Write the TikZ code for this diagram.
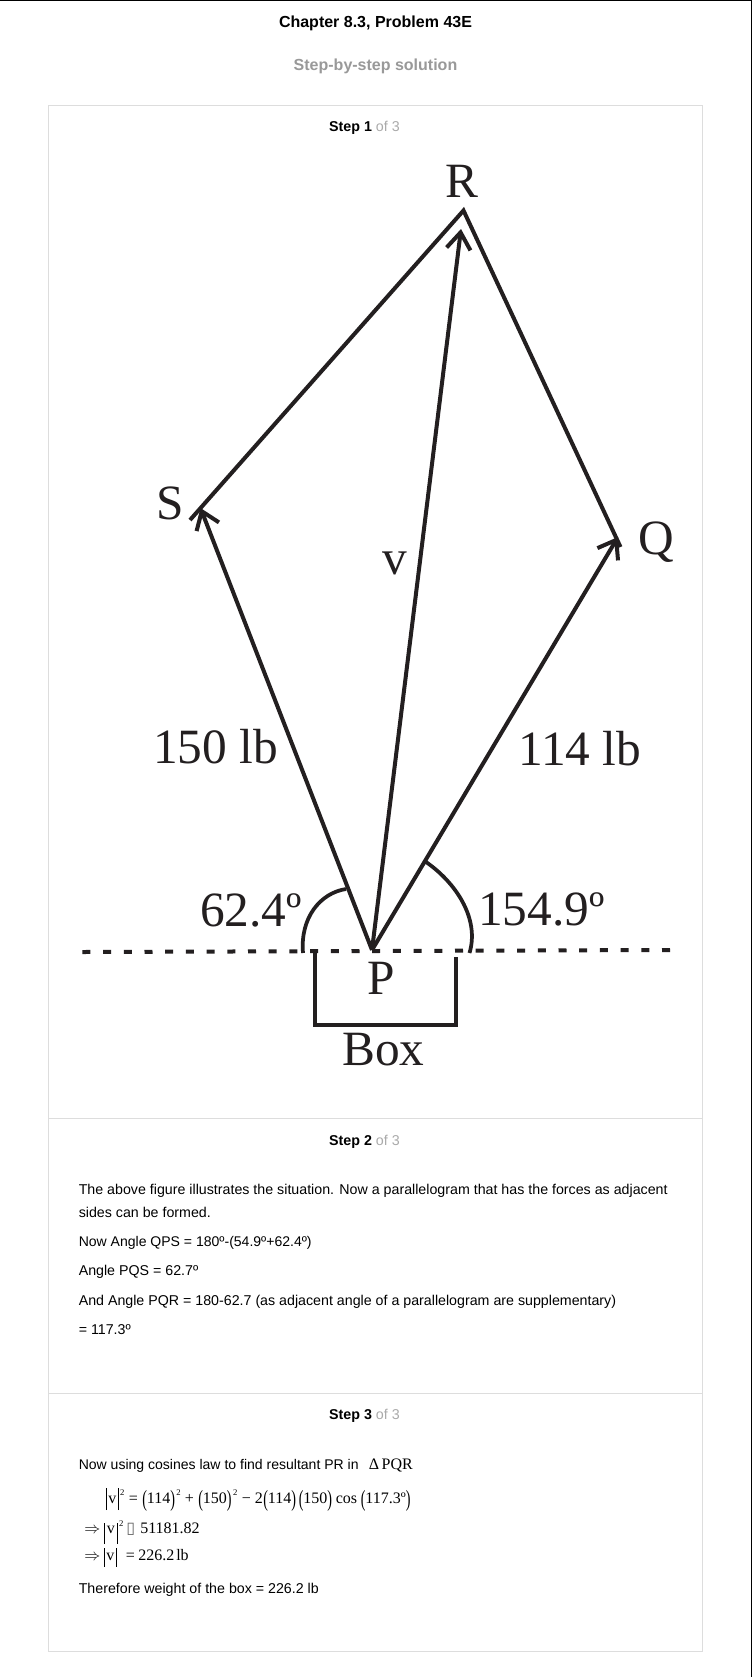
\documentclass[tikz,border=0pt]{standalone}
\usepackage{fontspec}
\usepackage{graphicx}
\usetikzlibrary{arrows.meta}
\setmainfont{Liberation Sans}
\newfontfamily\serifface{Liberation Serif}
\newfontfamily\dejaface{DejaVu Sans}
\newdimen\pxu \pxu=0.75pt
\definecolor{ink}{HTML}{231F20}
\definecolor{panelline}{HTML}{DDDDDD}
\definecolor{softgray}{HTML}{999999}
\definecolor{stepgray}{HTML}{AAAAAA}
\newcommand{\tallp}[1]{\raisebox{-2.6\pxu}{\scalebox{0.88}[1.45]{#1}}}
\newcommand{\barp}[2]{\rule[-#1\pxu]{1\pxu}{#2\pxu}}
\newcommand{\supr}[2][8.5]{\raisebox{#1\pxu}{\hspace{1.4\pxu}\fontsize{6.5pt}{7pt}\selectfont #2}}
\tikzset{
  x=0.75pt,y=-0.75pt,
  titletext/.style={anchor=base,inner sep=0pt,font=\fontsize{12pt}{14pt}\selectfont\bfseries},
  steptext/.style={anchor=base,inner sep=0pt,font=\fontsize{10.7pt}{12pt}\selectfont},
  bodytext/.style={anchor=base west,inner sep=0pt,font=\fontsize{10.67pt}{12pt}\selectfont},
  bodyshort/.style={anchor=base west,inner sep=0pt,font=\fontsize{10.52pt}{12pt}\selectfont},
  eqtext/.style={anchor=base west,inner sep=0pt,font=\serifface\fontsize{12pt}{14pt}\selectfont,text=black},
  figtext/.style={anchor=base west,inner sep=0pt,font=\serifface\fontsize{37pt}{40pt}\selectfont,text=ink},
  panel/.style={draw=panelline,line width=0.75pt},
  frameline/.style={draw=black,line width=0.9pt},
  vector/.style={draw=ink,line width=3pt,-{Straight Barb[length=12.5pt,width=18pt,line width=3pt]}},
  figline/.style={draw=ink,line width=3pt,line join=miter},
  arcline/.style={draw=ink,line width=2.8pt},
  groundline/.style={draw=ink,line width=3pt,dash pattern=on 6pt off 9.525pt}
}
\begin{document}
\begin{tikzpicture}
\useasboundingbox (0,0) rectangle (752,1677);
\fill[white] (0,0) rectangle (752,1677);
\draw[frameline] (0,0.5) -- (752,0.5);
\draw[frameline] (751.4,0) -- (751.4,1677);
% panels
\draw[panel] (48.5,105.5) rectangle (702.5,1651.5);
\draw[panel] (48.5,1118.5) -- (702.5,1118.5);
\draw[panel] (48.5,1393.5) -- (702.5,1393.5);
% headings
\node[titletext] (title) at (375.5,28) {Chapter 8.3, Problem 43E};
\node[titletext,text=softgray] (subtitle) at (375.5,70) {Step-by-step solution};
\node[steptext] (stepa) at (364.5,132) {\textbf{Step 1} \textcolor{stepgray}{of 3}};
\node[steptext] (stepb) at (364.5,1145) {\textbf{Step 2} \textcolor{stepgray}{of 3}};
\node[steptext] (stepc) at (364.5,1419) {\textbf{Step 3} \textcolor{stepgray}{of 3}};
% figure points
\coordinate (P) at (372,950);
\coordinate (R) at (463.5,210.5);
\coordinate (Send) at (190,520);
\coordinate (Qend) at (620.5,547);
\coordinate (Stip) at (200.5,508);
\coordinate (Qtip) at (618,537);
\coordinate (Rtip) at (461,229);
\coordinate (arcA) at (303,953);
\coordinate (arcB) at (346,889);
\coordinate (arcC) at (426,862);
\coordinate (arcD) at (469.5,953);
\coordinate (grA) at (82.4,952);
\coordinate (grB) at (670,950);
\coordinate (boxA) at (315,951);
\coordinate (boxB) at (315,1024.5);
\coordinate (boxC) at (456,1024.5);
\coordinate (boxD) at (456,957);
\draw[groundline] (grA) -- (grB);
\draw[figline] (Send) -- (R) -- (Qend);
\draw[vector] (P) -- (Stip);
\draw[vector] (P) -- (Rtip);
\draw[vector] (P) -- (Qtip);
\draw[arcline] (arcA) .. controls (300,918) and (320,893) .. (arcB);
\draw[arcline] (arcC) .. controls (455,882) and (480,918) .. (arcD);
\draw[figline] (boxA) -- (boxB) -- (boxC) -- (boxD);
% figure labels
\node[figtext] (lR) at (445,197) {R};
\node[figtext] (lS) at (156.5,519.5) {S};
\node[figtext] (lQ) at (638,554.5) {Q};
\node[figtext] (lv) at (382.5,574.5) {v};
\node[figtext] (lf) at (153,763) {150 lb};
\node[figtext] (lg) at (518,765.5) {114 lb};
\node[figtext] (la) at (200,926.5) {62.4º};
\node[figtext] (lb) at (478,925) {154.9º};
\node[figtext] (lP) at (367,994.5) {P};
\node[figtext] (lBox) at (342,1065) {Box};
% step 2
\node[bodytext] (sa) at (78.5,1194) {The above figure illustrates the situation. Now a parallelogram that has the forces as adjacent};
\node[bodytext] (sb) at (78.5,1217) {sides can be formed.};
\node[bodyshort] (sc) at (78.5,1246) {Now Angle QPS = 180º-(54.9º+62.4º)};
\node[bodytext] (sd) at (78.5,1275) {Angle PQS = 62.7º};
\node[bodytext] (se) at (78.5,1305) {And Angle PQR = 180-62.7 (as adjacent angle of a parallelogram are supplementary)};
\node[bodytext] (sf) at (78.5,1334) {= 117.3º};
% step 3
\node[bodyshort] (ta) at (78.5,1469) {Now using cosines law to find resultant PR in};
\node[eqtext] (tb) at (368.5,1469) {Δ\,PQR};
\node[eqtext] (ea) at (105.5,1503.5) {\barp{6.5}{22}\hspace{1.5\pxu}v\hspace{1.5\pxu}\barp{6.5}{22}\supr{2}};
\node[eqtext] (eb) at (128.5,1503.5) {=};
\node[eqtext] (ec) at (142,1503.5) {\tallp{(}114\tallp{)}\supr{2}};
\node[eqtext] (ed) at (184.5,1503.5) {+};
\node[eqtext] (ee) at (198,1503.5) {\tallp{(}150\tallp{)}\supr{2}};
\node[eqtext] (ef) at (241.5,1503.5) {−};
\node[eqtext] (eg) at (254.5,1503.5) {2};
\node[eqtext] (eh) at (263,1503.5) {\tallp{(}114\tallp{)}};
\node[eqtext] (ei) at (298.5,1503.5) {\tallp{(}150\tallp{)}};
\node[eqtext] (ej) at (335.5,1503.5) {cos};
\node[eqtext] (ek) at (360.5,1503.5) {\tallp{(}117.3º\tallp{)}};
\node[eqtext] (fa) at (84,1533) {$\Rightarrow$};
\node[eqtext] (fb) at (103.5,1533) {\barp{11}{21}\hspace{2\pxu}v\hspace{2\pxu}\barp{11}{21}\supr[6.5]{2}};
\node[eqtext,font=\dejaface\fontsize{12pt}{13pt}\selectfont,text=black!60] (fc) at (126,1533) {▯};
\node[eqtext] (fd) at (140,1533) {51181.82};
\node[eqtext] (ga) at (84,1560.5) {$\Rightarrow$};
\node[eqtext] (gb) at (103.5,1560.5) {\barp{6}{19}\hspace{1.5\pxu}v\hspace{1.5\pxu}\barp{6}{19}};
\node[eqtext] (gc) at (125.5,1560.5) {=};
\node[eqtext] (gd) at (138,1560.5) {226.2};
\node[eqtext] (ge) at (176,1560.5) {lb};
\node[bodytext] (th) at (78.5,1593) {Therefore weight of the box = 226.2 lb};
\end{tikzpicture}
\end{document}
